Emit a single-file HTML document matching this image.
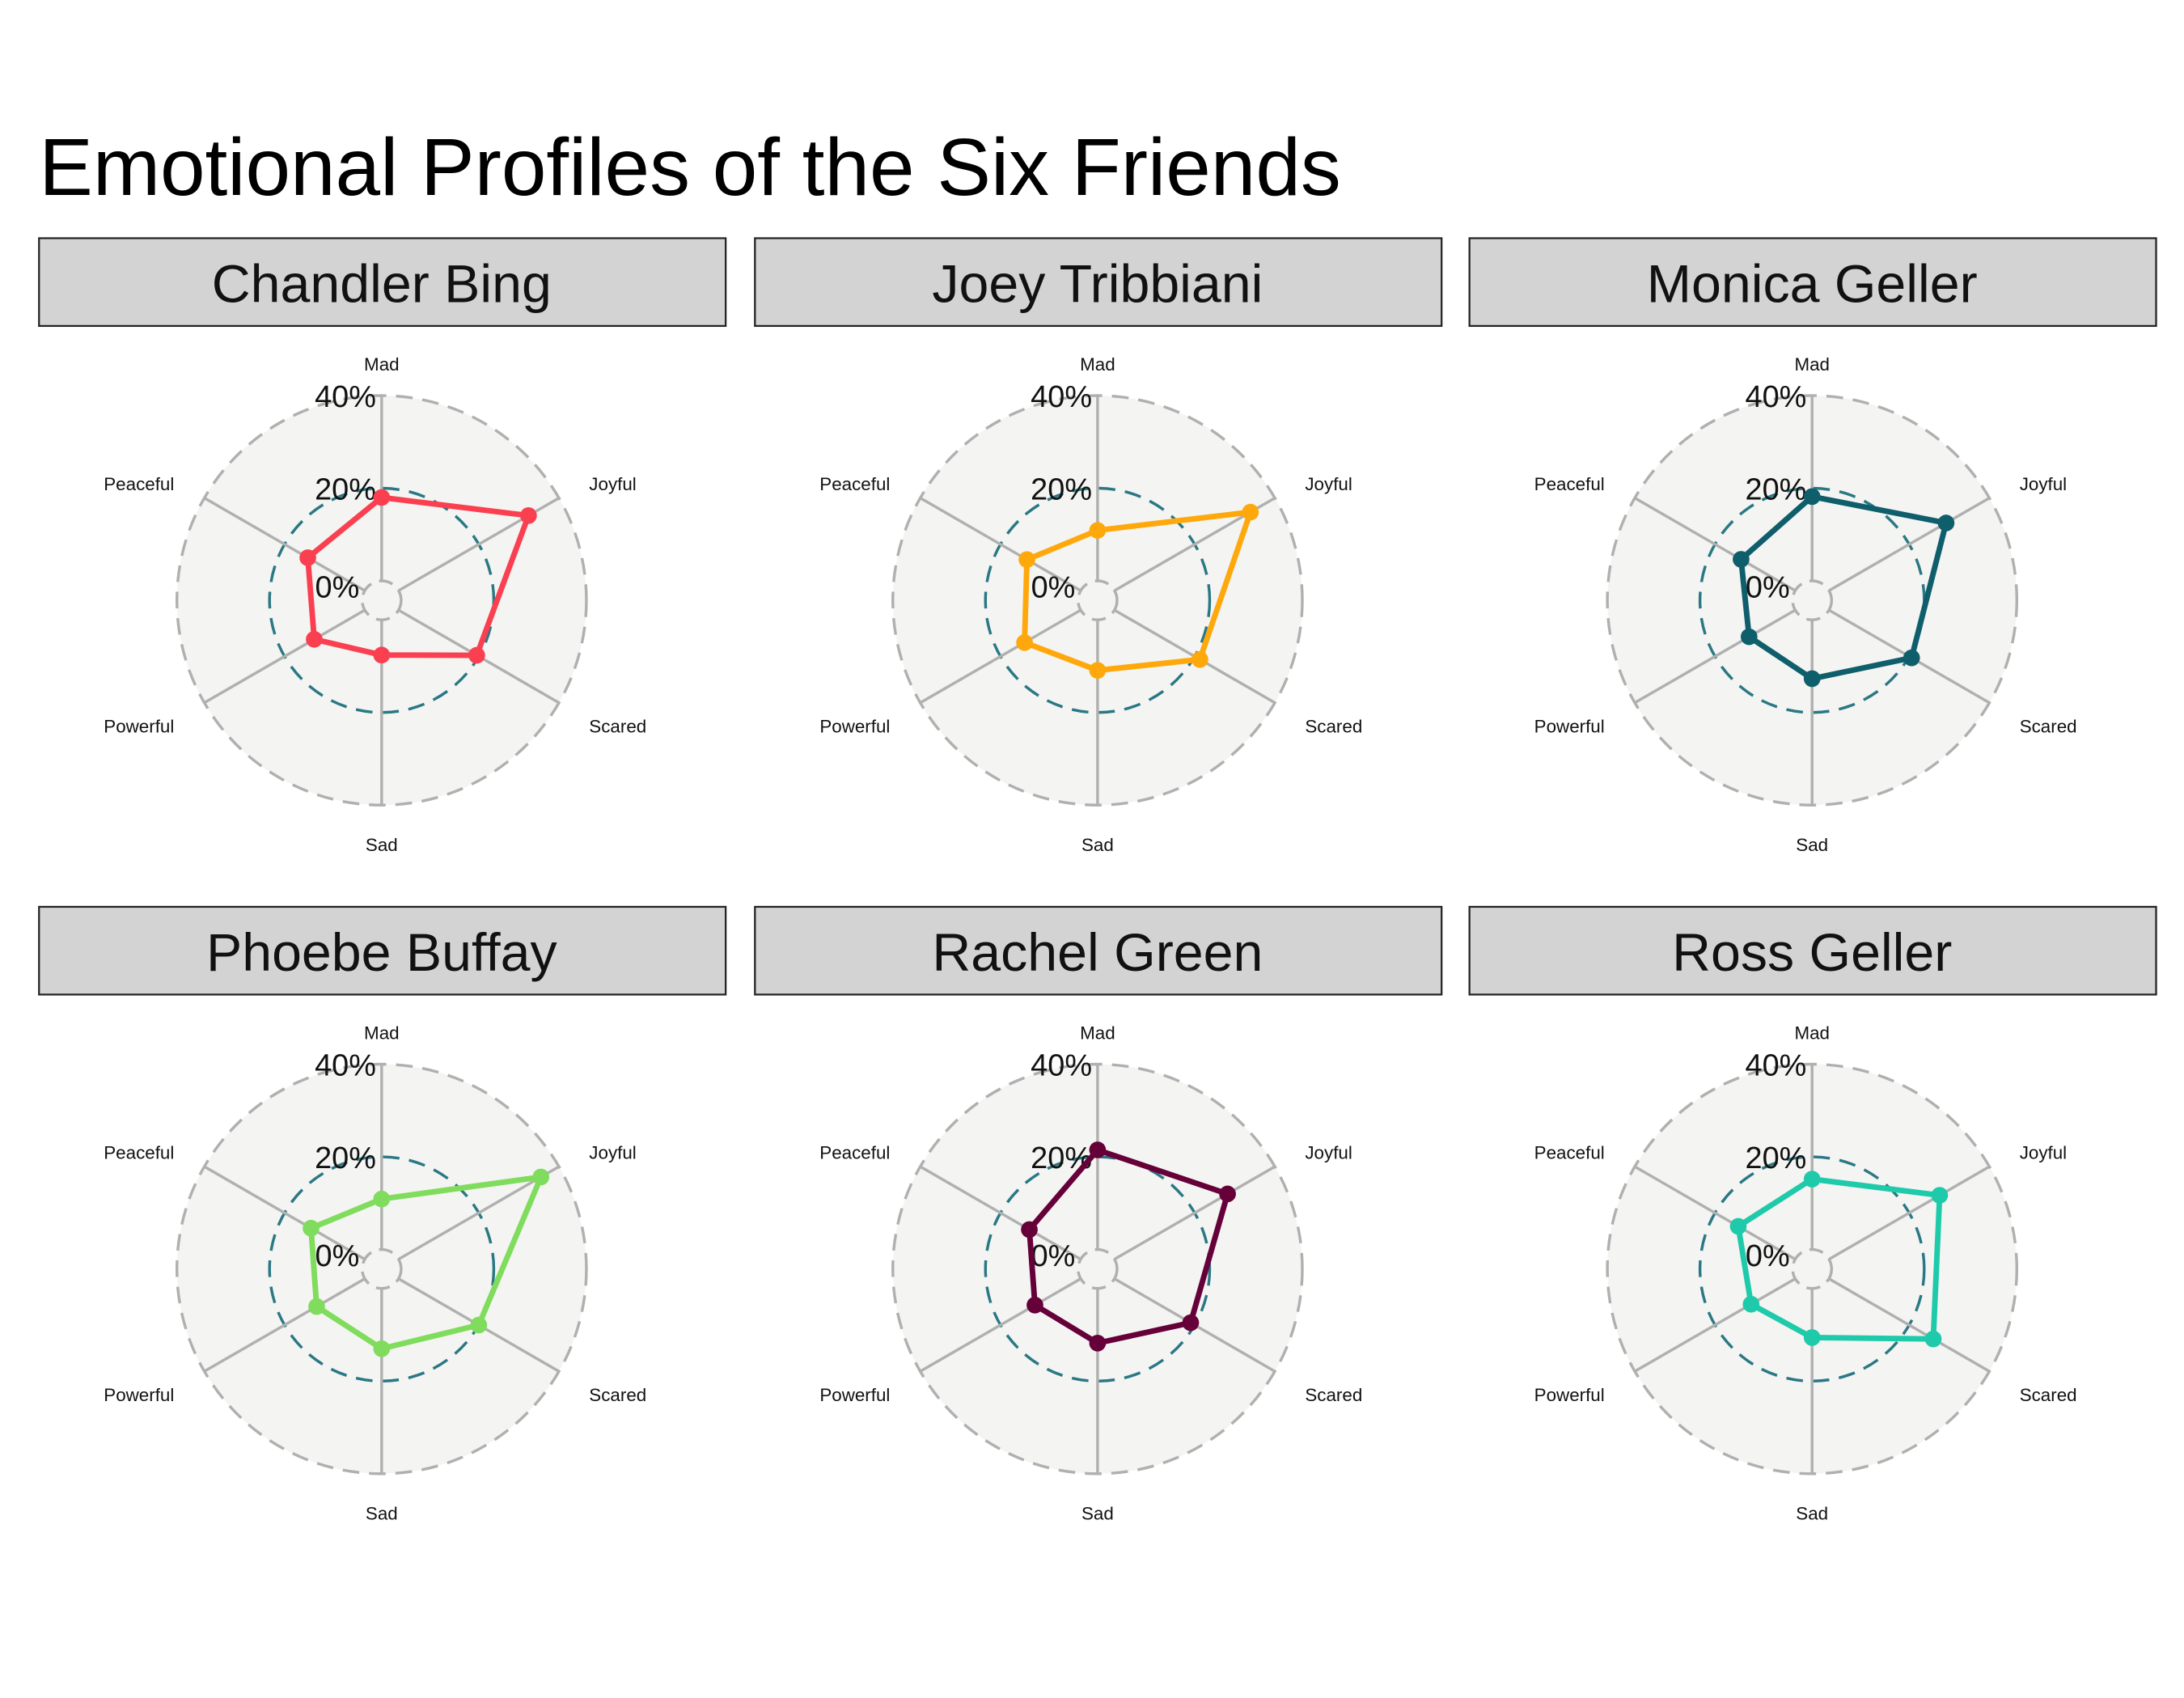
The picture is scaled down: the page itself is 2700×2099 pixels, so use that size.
<!DOCTYPE html>
<html><head><meta charset="utf-8"><style>
html,body{margin:0;padding:0;background:#fff;}
svg{display:block;font-family:"Liberation Sans",Arial,sans-serif;}
</style></head><body>
<svg id="chart" width="2700" height="2099" viewBox="0 0 1568 1219" xmlns="http://www.w3.org/2000/svg">
<rect width="1568" height="1219" fill="#fff"/>
<text x="28" y="140" font-size="58" fill="#000">Emotional Profiles of the Six Friends</text>
<g id="panels"></g>
</svg>
<script>
const categories = ["Mad","Joyful","Scared","Sad","Powerful","Peaceful"];
const characters = ["Chandler Bing","Joey Tribbiani","Monica Geller","Phoebe Buffay","Rachel Green","Ross Geller"];
const chandlerValues = [18, 32.4, 19.5, 7.6, 12.6, 14.2];
const joeyValues = [10.9, 33.9, 21.3, 10.9, 14, 13.4];
const monicaValues = [18.2, 29.2, 20.6, 12.7, 11.5, 13.5];
const phoebeValues = [10.9, 35.5, 20, 13, 12, 13.4];
const rachelValues = [21.5, 28.2, 19, 11.8, 11.4, 12.8];
const rossValues = [15.2, 27.6, 26, 10.6, 11, 14.2];
const tickValues = [0, 20, 40];
const tickLabels = ["0%","20%","40%"];
const colors = ["#fa4050","#ffa80c","#0f5e6b","#7fdc5c","#660039","#1ecaaa"];

const allValues = [chandlerValues, joeyValues, monicaValues, phoebeValues, rachelValues, rossValues];
const NS = "http://www.w3.org/2000/svg";
const R0 = 14, R1 = 147, VMAX = 40;
function rScale(v){ return R0 + v / VMAX * (R1 - R0); }
function angle(i){ return i / categories.length * 2 * Math.PI; }
function pt(cx, cy, i, r){ const a = angle(i); return [cx + r*Math.sin(a), cy - r*Math.cos(a)]; }
function mk(tag, attrs, parent){ const e = document.createElementNS(NS, tag); for (const k in attrs) e.setAttribute(k, attrs[k]); parent.appendChild(e); return e; }

const root = document.getElementById('panels');
const cxs = [274, 788, 1301], cys = [431, 911];
characters.forEach((name, p) => {
  const cx = cxs[p % 3], cy = cys[Math.floor(p / 3)];
  const g = mk('g', {}, root);
  
  
  const strip = mk('rect', {x: cx-246, y: cy-260, width: 493, height: 63, fill: '#d3d3d3', stroke: '#222', 'stroke-width': 1.3}, g);
  
  
  const st = mk('text', {x: cx, y: cy-214, 'font-size': 38.5, 'text-anchor': 'middle', fill: '#111'}, g);
  st.textContent = name;
  
  
  const bg = mk('circle', {cx, cy, r: R1, fill: '#f4f4f2', stroke: '#b0b0b0', 'stroke-width': 2, 'stroke-dasharray': '12 7'}, g);
  
  
  const mid = mk('circle', {cx, cy, r: rScale(20), fill: 'none', stroke: '#2a7884', 'stroke-width': 2, 'stroke-dasharray': '12 7'}, g);
  
  
  categories.forEach((c, i) => {
    const a = pt(cx, cy, i, R0), b = pt(cx, cy, i, R1);
    const sp = mk('line', {x1: a[0], y1: a[1], x2: b[0], y2: b[1], stroke: '#b0b0b0', 'stroke-width': 2}, g);
    
    
    const lp = pt(cx, cy, i, 172);
    const s = Math.sin(angle(i)), co = Math.cos(angle(i));
    const anchor = Math.abs(s) < 0.1 ? 'middle' : (s > 0 ? 'start' : 'end');
    let ly = lp[1] + (co > 0 ? 7 : 9);
    let lx = lp[0];
    if (i === 0) ly = cy - 165;
    if (i === 3) ly = cy + 180;
    const t = mk('text', {x: lx, y: ly, 'font-size': 13, 'text-anchor': anchor, fill: '#111'}, g);
    t.textContent = c;
    
    
  });
  const hole = mk('circle', {cx, cy, r: R0, fill: '#f4f4f2', stroke: '#b0b0b0', 'stroke-width': 2, 'stroke-dasharray': '10 6'}, g);
  
  
  tickValues.forEach((v, k) => {
    const t = mk('text', {x: cx - (v === 0 ? 16 : 4), y: cy - rScale(v) + (v === 0 ? 12 : 8), 'font-size': 22, 'text-anchor': 'end', fill: '#111'}, g);
    t.textContent = tickLabels[k];
    
    
  });
  const vals = allValues[p];
  const pts = vals.map((v, i) => pt(cx, cy, i, rScale(v)));
  const poly = mk('polygon', {points: pts.map(q => q.join(',')).join(' '), fill: 'none', stroke: colors[p], 'stroke-width': 4, 'stroke-linejoin': 'round'}, g);
  
  
  pts.forEach(q => {
    const d = mk('circle', {cx: q[0], cy: q[1], r: 6, fill: colors[p]}, g);
    
    
  });
});
</script>
</body></html>
